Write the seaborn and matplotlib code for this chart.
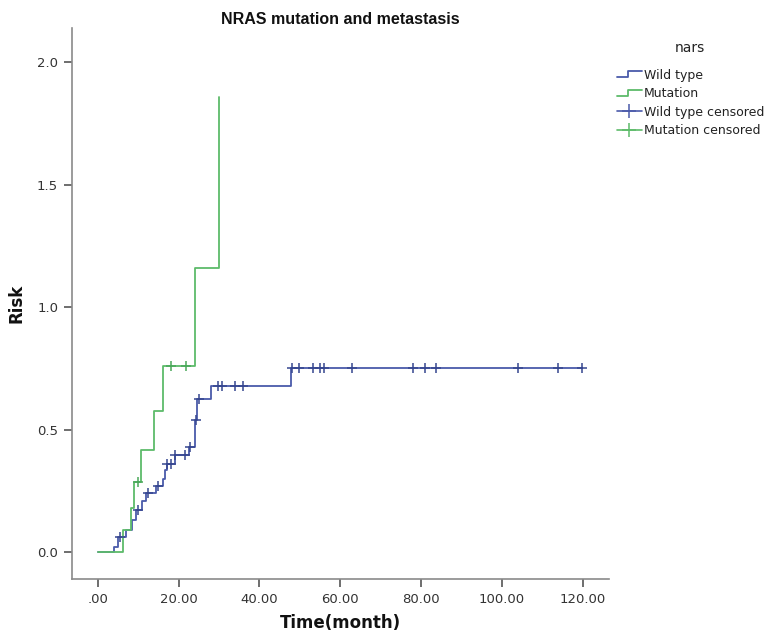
import numpy as np
import pandas as pd
import matplotlib
matplotlib.use("Agg")
import matplotlib.pyplot as plt
from matplotlib.lines import Line2D
from matplotlib.legend_handler import HandlerBase
import seaborn as sns

# ---------------- data ----------------
groups = ["Wild type", "Mutation"]

wt_times = [0.0, 4.0, 5.0, 7.0, 8.5, 9.5, 11.0, 12.0, 14.5, 16.0, 16.5, 17.0,
            19.0, 22.5, 24.0, 24.6, 28.0, 47.9]
wt_risk = [0.0, 0.02, 0.06, 0.09, 0.13, 0.17, 0.21, 0.24, 0.27, 0.30, 0.335, 0.36,
           0.395, 0.43, 0.54, 0.625, 0.677, 0.752]
wt_censor_times = [5.6, 10.0, 12.5, 15.0, 17.2, 18.2, 19.2, 21.6, 22.9, 24.2, 25.0,
                   29.8, 30.6, 33.9, 36.0, 48.0, 49.8, 53.2, 55.1, 55.9, 62.8,
                   78.0, 80.9, 83.8, 103.9, 114.0, 119.9]

mut_times = [0.0, 6.1, 8.1, 8.9, 10.8, 13.9, 16.2, 24.0, 30.0]
mut_risk = [0.0, 0.09, 0.18, 0.287, 0.416, 0.575, 0.759, 1.160, 1.858]
mut_censor_times = [10.0, 18.0, 21.8]

x_ticks = [0, 20, 40, 60, 80, 100, 120]
x_tick_labels = [".00", "20.00", "40.00", "60.00", "80.00", "100.00", "120.00"]
y_ticks = [0.0, 0.5, 1.0, 1.5, 2.0]
y_tick_labels = ["0.0", "0.5", "1.0", "1.5", "2.0"]
legend_labels = ["Wild type", "Mutation", "Wild type censored", "Mutation censored"]

colors = {"Wild type": "#4a5aaa", "Mutation": "#5dbb6a"}
censor_colors = {"Wild type": "#36468f", "Mutation": "#4aa85a"}


def step_value(times, risks, t):
    idx = np.searchsorted(np.asarray(times), t, side="right") - 1
    return np.asarray(risks)[idx]


# build tidy frames
rows = []
for g, ts, rs, cs in [("Wild type", wt_times, wt_risk, wt_censor_times),
                      ("Mutation", mut_times, mut_risk, mut_censor_times)]:
    for t, r in zip(ts, rs):
        rows.append((g, t, r))
    end_t = max(max(ts), max(cs))
    if end_t > max(ts):
        rows.append((g, end_t, rs[-1]))
curve_df = pd.DataFrame(rows, columns=["group", "time", "risk"])

crows = []
for g, ts, rs, cs in [("Wild type", wt_times, wt_risk, wt_censor_times),
                      ("Mutation", mut_times, mut_risk, mut_censor_times)]:
    for c in cs:
        crows.append((g, c, float(step_value(ts, rs, c))))
cens_df = pd.DataFrame(crows, columns=["group", "time", "risk"])

# ---------------- figure ----------------
sns.set_theme(style="white")
plt.rcParams["font.family"] = ["DejaVu Sans"]

fig = plt.figure(figsize=(7.76, 6.43), dpi=100)
ax = fig.add_axes([72 / 776, 64 / 643, 537 / 776, 551 / 643])

for g in groups:
    sub = curve_df[curve_df["group"] == g]
    sns.lineplot(data=sub, x="time", y="risk", ax=ax, color=colors[g],
                 drawstyle="steps-post", estimator=None, sort=False,
                 linewidth=1.3, legend=False)
for g in groups:
    sub = cens_df[cens_df["group"] == g]
    sns.scatterplot(data=sub, x="time", y="risk", ax=ax, marker="+",
                    color=censor_colors[g], s=60, linewidth=1.1, legend=False,
                    zorder=5)

ax.set_xlim(-6.4, 126.5)
ax.set_ylim(-0.11, 2.14)
ax.set_xticks(x_ticks)
ax.set_xticklabels(x_tick_labels)
ax.set_yticks(y_ticks)
ax.set_yticklabels(y_tick_labels)

for side in ["top", "right"]:
    ax.spines[side].set_visible(False)
for side in ["left", "bottom"]:
    ax.spines[side].set_color("#8a8a8a")
    ax.spines[side].set_linewidth(1.2)

ax.tick_params(axis="both", which="major", direction="out", length=6, width=1.2,
               color="#555555", labelsize=9.5, labelcolor="#333333", pad=4,
               bottom=True, left=True)
ax.grid(False)

ax.set_xlabel("Time(month)", fontsize=12, fontweight="bold", color="#111111", labelpad=6)
ax.set_ylabel("Risk", fontsize=12, fontweight="bold", color="#111111", labelpad=8)
ax.set_title("NRAS mutation and metastasis", fontsize=11.5, fontweight="bold",
             color="#111111", pad=3, family=["Liberation Sans", "DejaVu Sans"])


# ---------------- legend ----------------
class StepHandler(HandlerBase):
    def create_artists(self, legend, orig_handle, xdescent, ydescent, width,
                       height, fontsize, trans):
        x0 = -xdescent
        y0 = -ydescent
        xs = [x0, x0 + 0.45 * width, x0 + 0.45 * width, x0 + width]
        ys = [y0 + 0.15 * height, y0 + 0.15 * height, y0 + 0.85 * height, y0 + 0.85 * height]
        ln = Line2D(xs, ys, color=orig_handle.get_color(), lw=1.3)
        ln.set_transform(trans)
        return [ln]


h_wt = Line2D([], [], color=colors["Wild type"])
h_mut = Line2D([], [], color=colors["Mutation"])
h_wtc = Line2D([0], [0], color=colors["Wild type"], marker="+", markersize=10,
               markeredgewidth=1.1, lw=1.2)
h_mutc = Line2D([0], [0], color=colors["Mutation"], marker="+", markersize=10,
                markeredgewidth=1.1, lw=1.2)

leg = fig.legend([h_wt, h_mut, h_wtc, h_mutc], legend_labels,
                 handler_map={h_wt: StepHandler(), h_mut: StepHandler()},
                 loc="upper left", bbox_to_anchor=(614 / 776, 1 - 66 / 643),
                 frameon=False, fontsize=9,
                 handlelength=2.0, handletextpad=0.2, labelspacing=0.45,
                 borderaxespad=0.0, borderpad=0.2)
for t in leg.get_texts():
    t.set_color("#222222")
fig.text(690 / 776, 1 - 48 / 643, "nars", ha="center", va="center",
         fontsize=10, color="#222222")

fig.savefig("out.png", dpi=100)
